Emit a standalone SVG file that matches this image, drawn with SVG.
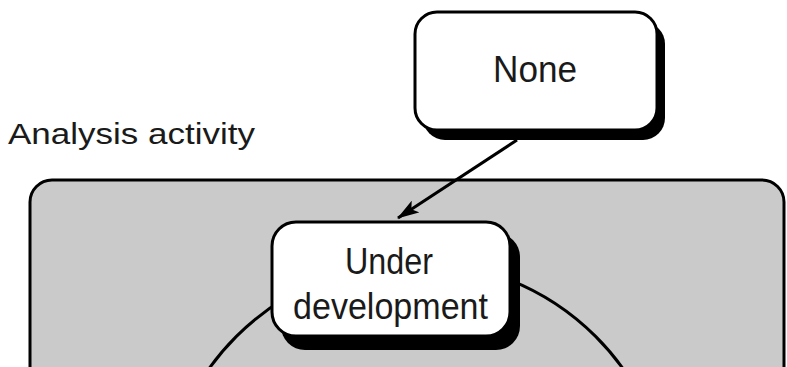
<svg xmlns="http://www.w3.org/2000/svg" width="787" height="367" viewBox="0 0 787 367">
  <style>
    .lbl { font-family: "Liberation Sans", Arial, sans-serif; fill: #1a1a1a; }
    .box { fill: #ffffff; stroke: #000000; stroke-width: 3; }
    .shadow { fill: #000000; }
    .conn { fill: none; stroke: #000000; stroke-width: 3; }
  </style>
  <defs>
    <marker id="arrow" viewBox="0 0 22 14" refX="21" refY="7" markerWidth="22" markerHeight="14" markerUnits="userSpaceOnUse" orient="auto">
      <path d="M0,0 L22,7 L0,14 L5,7 Z" fill="#000000"/>
    </marker>
  </defs>
  <rect width="787" height="367" fill="#ffffff"/>

  <g id="analysis-activity">
    <rect x="30" y="180" width="754" height="230" rx="22" ry="22" fill="#cacaca" stroke="#000000" stroke-width="3"/>
    <text class="lbl" x="8" y="144" font-size="30" textLength="247" lengthAdjust="spacingAndGlyphs">Analysis activity</text>
  </g>

  <g id="connectors">
    <circle class="conn" cx="416" cy="516" r="254"/>
    <line x1="517" y1="140" x2="398" y2="218" stroke="#000000" stroke-width="3" marker-end="url(#arrow)"/>
  </g>

  <g id="node-none">
    <rect class="shadow" x="423" y="22" width="242" height="118" rx="22" ry="22"/>
    <rect class="box" x="415" y="12" width="242" height="118" rx="22" ry="22"/>
    <text class="lbl" x="535" y="82" font-size="36" text-anchor="middle" textLength="84" lengthAdjust="spacingAndGlyphs">None</text>
  </g>

  <g id="node-under-development">
    <rect class="shadow" x="281" y="233" width="239" height="117" rx="24" ry="24"/>
    <rect class="box" x="272" y="222" width="238" height="114" rx="24" ry="24"/>
    <text class="lbl" x="389" y="274" font-size="36" text-anchor="middle" textLength="88" lengthAdjust="spacingAndGlyphs">Under</text>
    <text class="lbl" x="390.5" y="319" font-size="36" text-anchor="middle" textLength="195" lengthAdjust="spacingAndGlyphs">development</text>
  </g>
</svg>
